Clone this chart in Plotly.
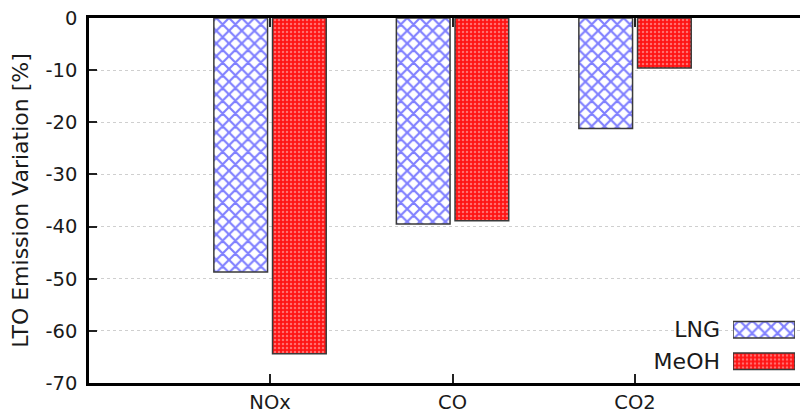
import plotly.graph_objects as go

categories = ["NOx", "CO", "CO2"]
series_names = ["LNG", "MeOH"]
lng_values = [-48.7, -39.5, -21.2]
meoh_values = [-64.4, -38.9, -9.6]
y_ticks = [0, -10, -20, -30, -40, -50, -60, -70]
y_title = "LTO Emission Variation [%]"

FONT = "DejaVu Sans"
# the page body has an 8px margin, so the figure is placed at (8, 8)
W, H = 800, 406
L, R, T, B = 81, 0, 10, 31
pw, ph = W - L - R, H - T - B

cat_pos = list(range(len(categories)))

LNG_MARKER = dict(color="white", line=dict(color="#3a3a3a", width=1.5),
                  pattern=dict(shape="x", fgcolor="#0000ff", bgcolor="white",
                               size=9, solidity=0.42, fillmode="overlay"))
MEOH_MARKER = dict(color="#ff1414", line=dict(color="#3a3a3a", width=1.5),
                   pattern=dict(shape=".", fgcolor="#ffc8c8", bgcolor="#ff1414",
                                size=4, solidity=0.3, fillmode="overlay"))
markers = [LNG_MARKER, MEOH_MARKER]

fig = go.Figure()

fig.add_trace(go.Bar(x=cat_pos, y=lng_values, name=series_names[0],
                     showlegend=False, marker=LNG_MARKER))
fig.add_trace(go.Bar(x=cat_pos, y=meoh_values, name=series_names[1],
                     showlegend=False, marker=MEOH_MARKER))

# custom legend (text left of swatch): one tiny subplot per series
row_top = [314, 345.5]  # page y of each legend row top (row height 31.5)
row_h = 31.5
for i, (nm, mk) in enumerate(zip(series_names, markers)):
    xa, ya = f"x{i + 2}", f"y{i + 2}"
    fig.add_trace(go.Bar(x=[1], y=[nm], orientation="h", width=0.53,
                         xaxis=xa, yaxis=ya, showlegend=False, hoverinfo="skip",
                         marker=mk))
    y_lo = (383 - (row_top[i] + row_h)) / ph
    y_hi = (383 - row_top[i]) / ph
    fig.update_layout({
        f"xaxis{i + 2}": dict(domain=[(733 - 89) / pw, (795 - 89) / pw], range=[0, 1],
                              anchor=ya, visible=False, fixedrange=True),
        f"yaxis{i + 2}": dict(domain=[y_lo, y_hi], anchor=xa,
                              showline=False, showgrid=False, zeroline=False,
                              ticks="", ticklabelstandoff=12,
                              tickfont=dict(size=22, family=FONT, color="#1a1a1a"),
                              fixedrange=True, automargin=False),
    })

x0 = -0.992
x1 = x0 + pw / 182.5

fig.update_layout(
    width=W, height=H,
    margin=dict(l=L, r=R, t=T, b=B, autoexpand=False),
    paper_bgcolor="white", plot_bgcolor="white",
    barmode="group", bargap=0.357, bargroupgap=0.085,
    font=dict(family=FONT, color="#1a1a1a", size=19.5),
    xaxis=dict(
        range=[x0, x1], tickmode="array", tickvals=cat_pos, ticktext=categories,
        showline=True, linecolor="black", linewidth=2.5, mirror="ticks",
        ticks="inside", ticklen=9, tickwidth=2, tickcolor="#222",
        showgrid=False, zeroline=False, ticklabelstandoff=0,
        tickfont=dict(size=19.5, family=FONT, color="#1a1a1a"),
        automargin=False,
    ),
    yaxis=dict(
        range=[-70, 0], tickmode="array", tickvals=y_ticks,
        ticktext=[str(v) for v in y_ticks],
        showline=True, linecolor="black", linewidth=2.5, mirror=False,
        ticks="inside", ticklen=8, tickwidth=2, tickcolor="#222",
        showgrid=True, gridcolor="#cfcfcf", gridwidth=1, griddash="dot",
        zeroline=False, ticklabelstandoff=5, ticklabeloverflow="allow",
        tickfont=dict(size=19.5, family=FONT, color="#1a1a1a"),
        title=dict(text=y_title, standoff=11, font=dict(size=22, family=FONT, color="#1a1a1a")),
        automargin=False,
    ),
)

fig.write_html("out.html")
